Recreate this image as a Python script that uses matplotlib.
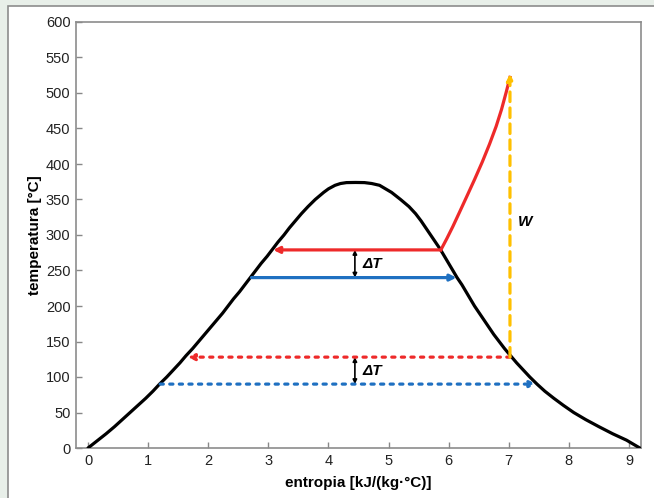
import matplotlib.pyplot as plt
from matplotlib.patches import Rectangle

# saturation dome, liquid side then vapour side
s_dome = [0.00, 0.15, 0.30, 0.44, 0.57, 0.70, 0.83, 0.96, 1.08, 1.19,
          1.31, 1.42, 1.53, 1.63, 1.74, 1.84, 1.94, 2.04, 2.14, 2.24,
          2.33, 2.42, 2.52, 2.61, 2.70, 2.79, 2.88, 2.98, 3.07, 3.16,
          3.26, 3.35, 3.45, 3.55, 3.66, 3.78, 3.92, 4.00, 4.11, 4.20,
          4.30, 4.45, 4.60, 4.72, 4.85, 5.05, 5.20, 5.34, 5.45, 5.54,
          5.62, 5.70, 5.78, 5.86, 5.93, 6.00, 6.07, 6.14, 6.22, 6.29,
          6.36, 6.43, 6.51, 6.59, 6.67, 6.75, 6.84, 6.93, 7.03, 7.13,
          7.24, 7.35, 7.47, 7.60, 7.75, 7.91, 8.08, 8.28, 8.50, 8.73,
          8.96, 9.18]
T_dome = [0, 10, 20, 30, 40, 50, 60, 70, 80, 90,
          100, 110, 120, 130, 140, 150, 160, 170, 180, 190,
          200, 210, 220, 230, 240, 250, 260, 270, 280, 290,
          300, 310, 320, 330, 340, 350, 360, 365, 370, 372.5,
          373.8, 374, 373.8, 372.5, 370, 360, 350, 340, 330, 320,
          310, 300, 290, 280, 270, 260, 250, 240, 230, 220,
          210, 200, 190, 180, 170, 160, 150, 140, 130, 120,
          110, 100, 90, 80, 70, 60, 50, 40, 30, 20,
          11, 0]

# superheated expansion line
s_sh = [5.87, 5.97, 6.07, 6.18, 6.30, 6.43, 6.56, 6.68, 6.79, 6.88, 6.96, 7.02]
T_sh = [279, 295, 312, 332, 354, 378, 403, 428, 453, 477, 502, 522]

# heat exchange levels
T_hot_hi, T_cold_hi = 279, 240
T_hot_lo, T_cold_lo = 128, 90
s_hot_hi = (5.87, 3.08)
s_cold_hi = (2.72, 6.13)
s_hot_lo = (7.02, 1.66)
s_cold_lo = (1.20, 7.46)
s_W, T_W = 7.02, (128, 527)
s_dT = 4.44

RED = '#EE2A2A'
BLUE = '#1F70C1'
GOLD = '#FFC000'

plt.rcParams['font.family'] = ['Liberation Sans', 'DejaVu Sans']

fig = plt.figure(figsize=(6.54, 4.98), dpi=100)
fig.patch.set_facecolor('#E8EFE9')
fig.patches.append(Rectangle((8 / 654, -0.1), 1.0, 1.1 - 6 / 498, transform=fig.transFigure,
                             facecolor='white', edgecolor='#8C8C8C', linewidth=1.2,
                             zorder=-10))

ax = fig.add_axes([76 / 654, 1 - 448 / 498, 565 / 654, 426 / 498])
ax.set_zorder(5)
ax.set_xlim(-0.2, 9.2)
ax.set_ylim(0, 600)

ax.plot(s_dome, T_dome, color='black', lw=2.3, solid_capstyle='round',
        solid_joinstyle='round', zorder=3)
ax.plot(s_sh, T_sh, color=RED, lw=2.3, solid_joinstyle='round', zorder=3)

def arrow(x0, y0, x1, y1, color, ls='-', lw=2.3, head=9):
    ax.annotate('', xy=(x1, y1), xytext=(x0, y0),
                arrowprops=dict(arrowstyle='-|>', color=color, lw=lw, ls=ls,
                                mutation_scale=head, shrinkA=0, shrinkB=0),
                zorder=4)

arrow(s_hot_hi[0], T_hot_hi, s_hot_hi[1], T_hot_hi, RED)
arrow(s_cold_hi[0], T_cold_hi, s_cold_hi[1], T_cold_hi, BLUE)
arrow(s_hot_lo[0], T_hot_lo, s_hot_lo[1], T_hot_lo, RED, ls=(0, (1, 2)))
arrow(s_cold_lo[0], T_cold_lo, s_cold_lo[1], T_cold_lo, BLUE, ls=(0, (1, 2)))
arrow(s_W, T_W[0], s_W, T_W[1], GOLD, ls=(0, (3, 2)))

for lo, hi in [(T_cold_hi, T_hot_hi), (T_cold_lo, T_hot_lo)]:
    ax.annotate('', xy=(s_dT, hi), xytext=(s_dT, lo),
                arrowprops=dict(arrowstyle='<|-|>', color='black', lw=1.2,
                                mutation_scale=6, shrinkA=0, shrinkB=0))
    ax.text(s_dT + 0.12, (lo + hi) / 2, 'ΔT',
            fontsize=11, fontweight='bold', fontstyle='italic', va='center', ha='left')

ax.text(s_W + 0.13, 318, 'W', fontsize=11, fontweight='bold', fontstyle='italic',
        va='center', ha='left')

ax.set_xticks(range(0, 10))
ax.set_yticks(range(0, 601, 50))
ax.tick_params(direction='in', length=4, width=1, color='#888888',
               labelsize=10.5, labelcolor='#222222', pad=4)
for sp in ax.spines.values():
    sp.set_color('#8C8C8C')
    sp.set_linewidth(1.2)

ax.set_xlabel('entropia [kJ/(kg·°C)]', fontsize=11, fontweight='bold', labelpad=6)
ax.set_ylabel('temperatura [°C]', fontsize=11, fontweight='bold', labelpad=3)

fig.savefig('out.png', dpi=100, facecolor=fig.get_facecolor())
